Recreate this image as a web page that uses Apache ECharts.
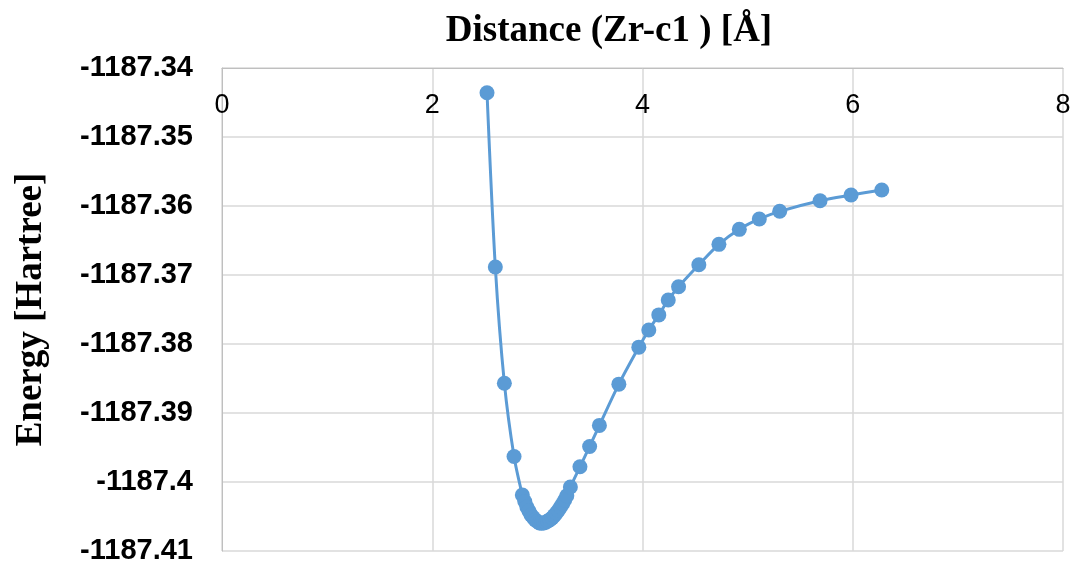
<!DOCTYPE html>
<html>
<head>
<meta charset="utf-8">
<script src="https://cdn.jsdelivr.net/npm/echarts@6/dist/echarts.min.js"></script>
<style>
html,body{margin:0;padding:0;background:#fff;}
#chart{width:1071px;height:565px;}
</style>
</head>
<body>
<div id="chart"></div>
<script>
var titleText = 'Distance (Zr-c1 ) [Å]';
var yName = 'Energy [Hartree]';
var distance = [2.521, 2.600, 2.686, 2.778, 2.857, 2.88, 2.90, 2.92, 2.94, 2.96, 2.98, 3.00, 3.02, 3.04, 3.06, 3.08, 3.10, 3.12, 3.14, 3.16, 3.18, 3.20, 3.22, 3.24, 3.26, 3.28, 3.314, 3.405, 3.497, 3.590, 3.775, 3.965, 4.060, 4.155, 4.245, 4.343, 4.536, 4.727, 4.921, 5.111, 5.305, 5.689, 5.984, 6.276];
var energy = [-1187.34358, -1187.36884, -1187.38568, -1187.39630, -1187.40188, -1187.40283, -1187.40362, -1187.40420, -1187.40478, -1187.40514, -1187.40551, -1187.40572, -1187.40594, -1187.40597, -1187.40594, -1187.40583, -1187.40565, -1187.40546, -1187.40522, -1187.40488, -1187.40449, -1187.40409, -1187.40362, -1187.40315, -1187.40261, -1187.40199, -1187.40072, -1187.39780, -1187.39485, -1187.39180, -1187.38582, -1187.38046, -1187.37797, -1187.37578, -1187.37362, -1187.37170, -1187.36851, -1187.36556, -1187.36338, -1187.36188, -1187.36077, -1187.35923, -1187.35841, -1187.35768];
var xTicks = {min: 0, max: 8, interval: 2};
var yTicks = {min: -1187.41, max: -1187.34, interval: 0.01};

var points = distance.map(function (d, i) { return [d, energy[i]]; });
var chart = echarts.init(document.getElementById('chart'));
chart.setOption({
  animation: false,
  backgroundColor: '#ffffff',
  title: {
    text: titleText,
    left: 604,
    top: 8,
    textAlign: 'center',
    textStyle: {fontFamily: 'Liberation Serif', fontWeight: 'bold', fontSize: 37, color: '#000'}
  },
  grid: {left: 222, right: 8, top: 68, bottom: 14, containLabel: false, outerBoundsMode: 'none'},
  xAxis: {
    type: 'value',
    position: 'top',
    min: xTicks.min, max: xTicks.max, interval: xTicks.interval,
    axisLine: {show: true, onZero: false, lineStyle: {color: '#bfbfbf', width: 1}},
    axisTick: {show: false},
    axisLabel: {inside: true, margin: 24, fontFamily: 'Liberation Sans', fontSize: 27, color: '#000'},
    splitLine: {show: true, lineStyle: {color: '#d9d9d9', width: 1.5}}
  },
  yAxis: {
    type: 'value',
    min: yTicks.min, max: yTicks.max, interval: yTicks.interval,
    name: yName,
    nameLocation: 'middle',
    nameGap: 172,
    nameRotate: 90,
    nameTextStyle: {fontFamily: 'Liberation Serif', fontWeight: 'bold', fontSize: 37, color: '#000'},
    axisLine: {show: true, lineStyle: {color: '#bfbfbf', width: 1}},
    axisTick: {show: false},
    axisLabel: {
      margin: 29,
      fontFamily: 'Liberation Sans', fontWeight: 'bold', fontSize: 29, color: '#000',
      formatter: function (v) { return String(parseFloat(v.toFixed(2))); }
    },
    splitLine: {show: true, lineStyle: {color: '#d9d9d9', width: 1.5}}
  },
  series: [{
    type: 'line',
    data: points,
    smooth: 0.3,
    symbol: 'circle',
    symbolSize: 15,
    itemStyle: {color: '#5b9bd5'},
    lineStyle: {color: '#5b9bd5', width: 3}
  }]
});
</script>
</body>
</html>
